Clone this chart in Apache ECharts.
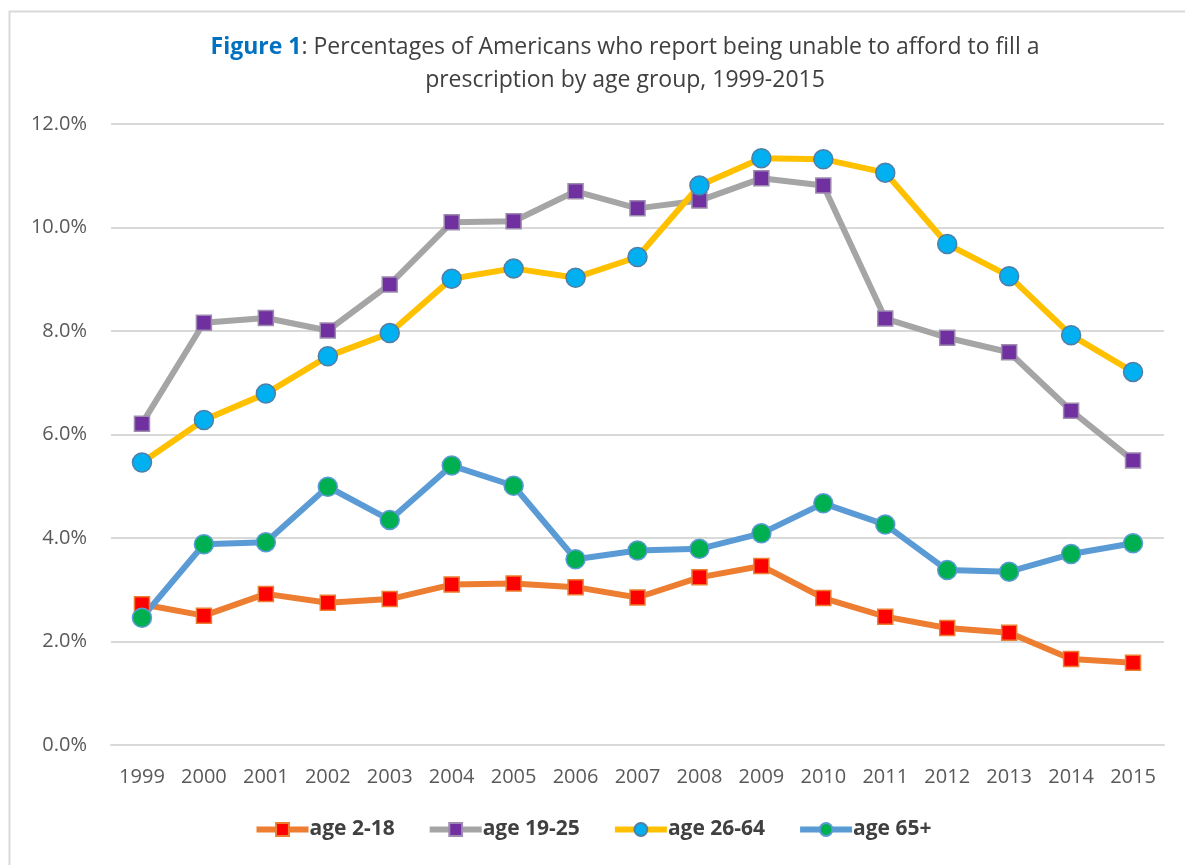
<!DOCTYPE html>
<html>
<head>
<meta charset="utf-8">
<script src="https://cdn.jsdelivr.net/npm/echarts@6/dist/echarts.min.js"></script>
<style>
html,body{margin:0;padding:0;background:#fff;}
#chart{width:1185px;height:865px;}
</style>
</head>
<body>
<div id="chart"></div>
<script>
const years = ['1999','2000','2001','2002','2003','2004','2005','2006','2007','2008','2009','2010','2011','2012','2013','2014','2015'];
const age2_18  = [2.72,2.50,2.92,2.75,2.82,3.10,3.12,3.05,2.85,3.24,3.46,2.84,2.48,2.26,2.17,1.66,1.59];
const age19_25 = [6.21,8.16,8.25,8.01,8.90,10.10,10.12,10.70,10.37,10.52,10.95,10.81,8.24,7.87,7.59,6.46,5.50];
const age26_64 = [5.46,6.28,6.79,7.51,7.96,9.01,9.21,9.03,9.43,10.81,11.34,11.32,11.06,9.68,9.06,7.92,7.21];
const age65p   = [2.46,3.88,3.92,4.99,4.35,5.40,5.01,3.59,3.76,3.79,4.09,4.67,4.26,3.38,3.35,3.69,3.90];
const seriesNames = ['age 2-18','age 19-25','age 26-64','age 65+'];
const titleBold = 'Figure 1';
const titleLine1 = ': Percentages of Americans who report being unable to afford to fill a';
const titleLine2 = 'prescription by age group, 1999-2015';

const FONT = '"Open Sans", "Noto Sans", sans-serif';

function mk(name, data, lineColor, markerColor, borderColor, symbol, size) {
  return {
    name: name, type: 'line', data: data,
    symbol: symbol, symbolSize: size,
    lineStyle: {color: lineColor, width: 6},
    itemStyle: {color: markerColor, borderColor: borderColor, borderWidth: 1.5},
    emphasis: {disabled: true},
    z: 2
  };
}

const chart = echarts.init(document.getElementById('chart'));
chart.setOption({
  animation: false,
  backgroundColor: '#ffffff',
  graphic: [{
    type: 'rect', left: 7, top: 9,
    shape: {width: 1200, height: 880},
    style: {fill: 'none', stroke: '#d9d9d9', lineWidth: 2},
    silent: true, z: -1
  }, {
    type: 'text', x: 625, y: 47, silent: true,
    style: {
      text: '{b|' + titleBold + '}{n|' + titleLine1 + '}',
      align: 'center', verticalAlign: 'middle',
      rich: {
        b: {fontFamily: FONT, fontSize: 23, fontWeight: 'bold', fill: '#0070C0'},
        n: {fontFamily: FONT, fontSize: 23, fontWeight: 'normal', fill: '#404040'}
      }
    }
  }, {
    type: 'text', x: 625, y: 80, silent: true,
    style: {
      text: titleLine2,
      align: 'center', verticalAlign: 'middle',
      fontFamily: FONT, fontSize: 23, fontWeight: 'normal', fill: '#404040'
    }
  }],
  grid: {left: 111, right: 21, top: 124, bottom: 120, containLabel: false},
  xAxis: {
    type: 'category', data: years, boundaryGap: true,
    axisLine: {show: true, lineStyle: {color: '#d9d9d9', width: 2}},
    axisTick: {show: false},
    axisLabel: {color: '#595959', fontFamily: FONT, fontSize: 20, margin: 22}
  },
  yAxis: {
    type: 'value', min: 0, max: 12, interval: 2,
    axisLine: {show: false}, axisTick: {show: false},
    splitLine: {lineStyle: {color: '#d9d9d9', width: 2}},
    axisLabel: {color: '#595959', fontFamily: FONT, fontSize: 20, margin: 24,
      formatter: v => v.toFixed(1) + '%'}
  },
  legend: {
    bottom: 20, left: 'center',
    itemWidth: 52, itemHeight: 16, itemGap: 32,
    data: seriesNames,
    lineStyle: {width: 6},
    textStyle: {color: '#404040', fontFamily: FONT, fontSize: 21, fontWeight: 'bold', padding: [0,0,0,-4]}
  },
  series: [
    mk(seriesNames[0], age2_18, '#ED7D31', '#FF0000', '#ED7D31', 'rect', 15),
    mk(seriesNames[1], age19_25, '#A5A5A5', '#7030A0', '#9E8BB0', 'rect', 15),
    mk(seriesNames[2], age26_64, '#FFC000', '#00B0F0', '#4F7FA8', 'circle', 19),
    mk(seriesNames[3], age65p, '#5B9BD5', '#00B050', '#5B9BD5', 'circle', 19)
  ]
});
</script>
</body>
</html>
